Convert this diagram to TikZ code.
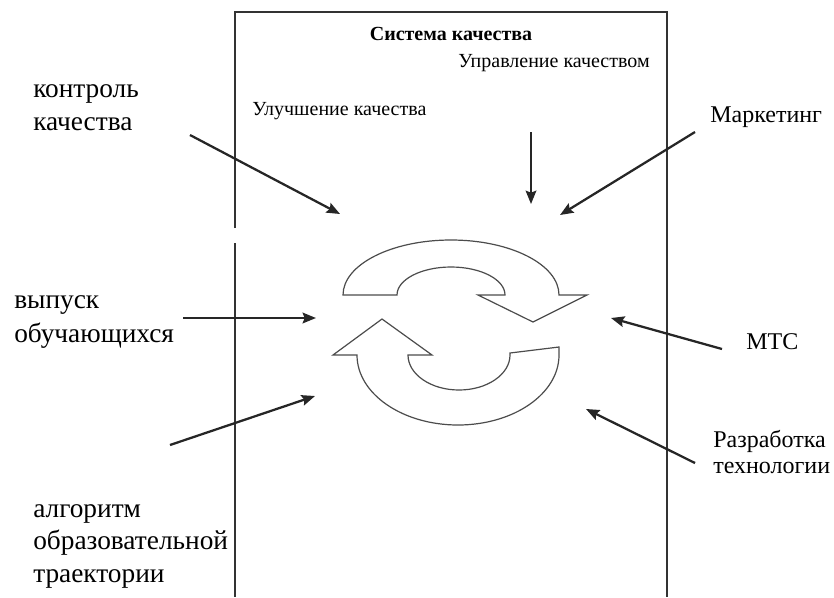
\documentclass[tikz,border=0pt]{standalone}
\usepackage{fontspec}
\setmainfont{Liberation Serif}
\usetikzlibrary{arrows.meta}
\begin{document}
\begin{tikzpicture}[x=0.75pt,y=-0.75pt,
  side/.style={font=\fontsize{20.5pt}{24pt}\selectfont, anchor=base west, inner sep=0pt},
  rside/.style={font=\fontsize{18pt}{22pt}\selectfont, anchor=base west, inner sep=0pt},
  inbox/.style={font=\fontsize{15pt}{17pt}\selectfont, anchor=base west, inner sep=0pt},
  feed/.style={line width=1.7pt, draw=black!85, -{Stealth[length=10pt,width=8pt,inset=1.5pt]}},
  frame/.style={line width=2pt, draw=black!80},
  cyc/.style={line width=0.9pt, draw=black!70, fill=white, line join=miter}]
\useasboundingbox (0,0) rectangle (834,597);

% open frame of the quality system
\draw[frame] (235,228) -- (235,12) -- (667,12) -- (667,597);
\draw[frame] (235,243) -- (235,597);

% texts inside the frame
\node[inbox, font=\fontsize{15pt}{17pt}\selectfont\bfseries, anchor=base] (sys) at (451,40) {Система качества};
\node[inbox] (upr) at (458,67) {Управление качеством};
\node[inbox] (ulu) at (252,115) {Улучшение качества};

% labels around the frame
\node[side] (kk1) at (33,97) {контроль};
\node[side] (kk2) at (33,130) {качества};
\node[side] (vy1) at (14,308) {выпуск};
\node[side] (vy2) at (14,342) {обучающихся};
\node[side] (al1) at (33,517) {алгоритм};
\node[side] (al2) at (33,549) {образовательной};
\node[side] (al3) at (33,582) {траектории};
\node[rside] (mar) at (710,122) {Маркетинг};
\node[rside] (mts) at (746,349) {МТС};
\node[rside] (raz1) at (713,447) {Разработка};
\node[rside] (raz2) at (713,473) {технологии};

% circular arrows of the quality cycle
\path[cyc] (343,295) arc[start angle=180,end angle=360,x radius=108,y radius=55]
  -- (587,295) -- (533,322) -- (478,295) -- (505,295)
  arc[start angle=0,end angle=-180,x radius=54,y radius=28] -- cycle;
\path[cyc] (357,355) arc[start angle=180,end angle=0,x radius=101,y radius=70]
  -- (559,347) -- (510,353) -- (510,355)
  arc[start angle=0,end angle=180,x radius=51,y radius=35]
  -- (432,355) -- (382,319) -- (333,355) -- cycle;

% ends of the feeding arrows
\coordinate (kkS) at (190,135);  \coordinate (kkE) at (340,214);
\coordinate (upS) at (531,132);  \coordinate (upE) at (531,204);
\coordinate (marS) at (695,132); \coordinate (marE) at (560,215);
\coordinate (vyS) at (183,318);  \coordinate (vyE) at (316,318);
\coordinate (alS) at (170,445);  \coordinate (alE) at (315,396);
\coordinate (mtsS) at (722,349); \coordinate (mtsE) at (611,318);
\coordinate (razS) at (695,463); \coordinate (razE) at (586,409);

\draw[feed] (kkS) -- (kkE);
\draw[feed, line width=1.4pt] (upS) -- (upE);
\draw[feed] (marS) -- (marE);
\draw[feed] (vyS) -- (vyE);
\draw[feed] (alS) -- (alE);
\draw[feed] (mtsS) -- (mtsE);
\draw[feed] (razS) -- (razE);
\end{tikzpicture}
\end{document}
